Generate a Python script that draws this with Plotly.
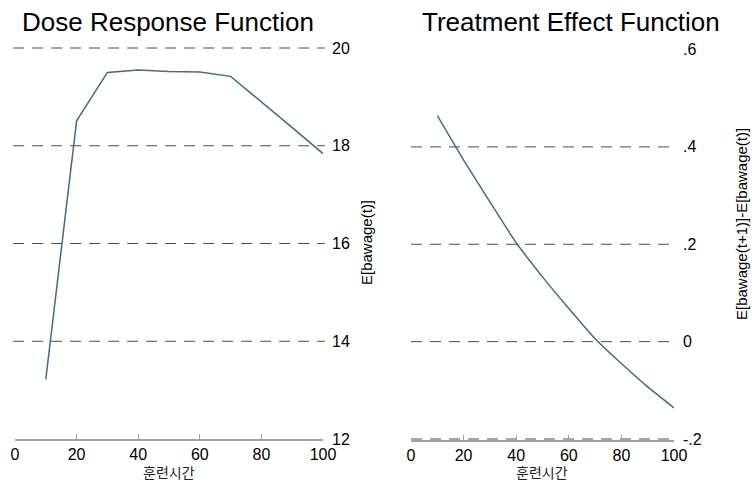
import plotly.graph_objects as go

# Data
dose = [10, 20, 30, 40, 50, 60, 70, 80, 90, 100]
dose_response = [13.22, 18.51, 19.50, 19.55, 19.52, 19.51, 19.42, 18.90, 18.37, 17.84]
treat_effect = [0.464, 0.373, 0.287, 0.203, 0.133, 0.068, 0.006, -0.045, -0.093, -0.136]

left_ticks = [12, 14, 16, 18, 20]
left_grid = [14, 16, 18, 20]
right_ticks = [-0.2, 0, 0.2, 0.4, 0.6]
right_ticktext = ["-.2", "0", ".2", ".4", ".6"]
right_grid = [-0.2, 0, 0.2, 0.4]
x_ticks = [0, 20, 40, 60, 80, 100]

W, H = 752, 483
LINE = "#3e6d8a"
GRID = "#4a4a4a"
AXIS = "#a0a0a0"
FONT = "Liberation Sans, Arial, sans-serif"
KFONT = "Noto Sans CJK KR, sans-serif"
DASH = "11px,8px"

def px(x):
    return x / W

def py(y):
    return (H - y) / H

# pixel geometry of the panels (value -> pixel) with a few px of padding so the
# edge gridlines are not clipped
L_TOP, L_BOT = 48.0, 439.0      # pixel rows of 20 and 12
R_TOP, R_BOT = 49.5, 439.0      # pixel rows of .6 and -.2
PAD = 4
l_scale = (L_BOT - L_TOP) / (20 - 12)
r_scale = (R_BOT - R_TOP) / (0.6 - (-0.2))

fig = go.Figure()
fig.add_trace(go.Scatter(x=dose, y=dose_response, mode="lines",
                         line=dict(color=LINE, width=1.5), xaxis="x", yaxis="y",
                         showlegend=False))
fig.add_trace(go.Scatter(x=dose, y=treat_effect, mode="lines",
                         line=dict(color=LINE, width=1.5, shape="spline", smoothing=0.6),
                         xaxis="x2", yaxis="y2", showlegend=False))

xcommon = dict(range=[0, 100], tickvals=x_ticks, ticks="inside", ticklen=5,
               tickcolor=AXIS, tickwidth=1, showline=True, linecolor=AXIS, linewidth=2,
               showgrid=False, zeroline=False, automargin=False, ticklabelstandoff=0,
               tickfont=dict(family=FONT, size=16, color="#000000"))
ycommon = dict(side="right", ticks="", showline=False, zeroline=False, showgrid=False,
               ticklabelstandoff=8, automargin=False,
               tickfont=dict(family=FONT, size=16, color="#000000"))

shapes = []
for v in left_grid:
    shapes.append(dict(type="line", xref="x domain", yref="y", x0=-0.006, x1=1.006, y0=v, y1=v,
                       line=dict(color=GRID, width=1, dash=DASH), layer="below"))
for v in right_grid:
    shapes.append(dict(type="line", xref="x2 domain", yref="y2", x0=0, x1=1, y0=v, y1=v,
                       line=dict(color=GRID, width=1, dash=DASH), layer="below"))

fig.update_layout(
    template="none",
    width=W, height=H,
    margin=dict(l=0, r=0, t=0, b=0, autoexpand=False),
    paper_bgcolor="white", plot_bgcolor="white",
    xaxis=dict(domain=[px(15), px(323)], anchor="y", **xcommon),
    yaxis=dict(domain=[py(L_BOT), py(L_TOP - PAD)], anchor="x",
               range=[12, 20 + PAD / l_scale], tickvals=left_ticks, **ycommon),
    xaxis2=dict(domain=[px(411), px(674)], anchor="free", position=py(441), **xcommon),
    yaxis2=dict(domain=[py(R_BOT + PAD), py(R_TOP)], anchor="x2",
                range=[-0.2 - PAD / r_scale, 0.6],
                tickvals=right_ticks, ticktext=right_ticktext, **ycommon),
    shapes=shapes,
    annotations=[
        dict(text="Dose Response Function", x=px(168), y=py(22), xref="paper", yref="paper",
             showarrow=False, xanchor="center", yanchor="middle",
             font=dict(family=FONT, size=26, color="#000000")),
        dict(text="Treatment Effect Function", x=px(571), y=py(22), xref="paper", yref="paper",
             showarrow=False, xanchor="center", yanchor="middle",
             font=dict(family=FONT, size=26, color="#000000")),
        dict(text="E[bawage(t)]", x=px(367), y=py(243), xref="paper", yref="paper",
             showarrow=False, textangle=-90, xanchor="center", yanchor="middle",
             font=dict(family=FONT, size=15, color="#000000")),
        dict(text="E[bawage(t+1)]-E[bawage(t)]", x=px(742), y=py(224), xref="paper", yref="paper",
             showarrow=False, textangle=-90, xanchor="center", yanchor="middle",
             font=dict(family=FONT, size=15, color="#000000")),
        dict(text="훈련시간", x=px(169), y=py(472), xref="paper", yref="paper",
             showarrow=False, xanchor="center", yanchor="middle",
             font=dict(family=KFONT, size=14, color="#222222")),
        dict(text="훈련시간", x=px(542), y=py(472), xref="paper", yref="paper",
             showarrow=False, xanchor="center", yanchor="middle",
             font=dict(family=KFONT, size=14, color="#222222")),
    ],
)

fig.write_html("out.html")
